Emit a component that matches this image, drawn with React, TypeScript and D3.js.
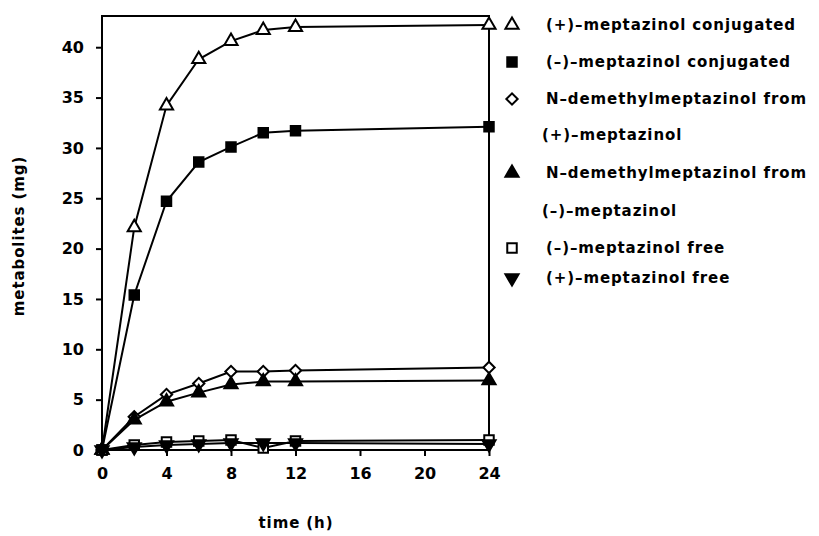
import React, { useEffect, useRef } from "react";
import * as d3 from "d3";

// time points (h)
const hours = [0, 2, 4, 6, 8, 10, 12, 24];

const plusConjugated = [0, 22.1, 34.2, 38.8, 40.6, 41.7, 42.0, 42.2];
const minusConjugated = [0, 15.4, 24.7, 28.6, 30.1, 31.5, 31.7, 32.1];
const demethylFromPlus = [0, 3.3, 5.5, 6.6, 7.8, 7.8, 7.9, 8.2];
const demethylFromMinus = [0, 3.0, 4.8, 5.7, 6.5, 6.8, 6.8, 6.9];
const minusFree = [0, 0.5, 0.8, 0.9, 1.0, 0.2, 0.9, 1.0];
const plusFree = [0, 0.3, 0.5, 0.6, 0.7, 0.7, 0.7, 0.6];

const xTicks = [0, 4, 8, 12, 16, 20, 24];
const yTicks = [0, 5, 10, 15, 20, 25, 30, 35, 40];

const legendLines = [
  { text: "(+)\u2013meptazinol conjugated", marker: "triUp", filled: false },
  { text: "(\u2013)\u2013meptazinol conjugated", marker: "square", filled: true },
  { text: "N\u2013demethylmeptazinol from", marker: "diamond", filled: false },
  { text: "(+)\u2013meptazinol", marker: null, filled: false },
  { text: "N\u2013demethylmeptazinol from", marker: "triUp", filled: true },
  { text: "(\u2013)\u2013meptazinol", marker: null, filled: false },
  { text: "(\u2013)\u2013meptazinol free", marker: "square", filled: false },
  { text: "(+)\u2013meptazinol free", marker: "triDown", filled: true },
];

const series = [
  { values: plusConjugated, marker: "triUp", filled: false },
  { values: minusConjugated, marker: "square", filled: true },
  { values: demethylFromPlus, marker: "diamond", filled: false },
  { values: demethylFromMinus, marker: "triUp", filled: true },
  { values: minusFree, marker: "square", filled: false },
  { values: plusFree, marker: "triDown", filled: true },
];

const FONT = "'DejaVu Sans', sans-serif";
const SPACING = "0.9px";

function symbolPath(marker: string) {
  if (marker === "square") return d3.symbol(d3.symbolSquare, 90)();
  if (marker === "diamond") return d3.symbol(d3.symbolSquare, 64)();
  return d3.symbol(d3.symbolTriangle, 75)();
}

function drawMarker(g: any, marker: string, filled: boolean, cx: number, cy: number) {
  const rot = marker === "triDown" ? " rotate(180)" : marker === "diamond" ? " rotate(45)" : "";
  g.append("path")
    .attr("d", symbolPath(marker))
    .attr("transform", `translate(${cx},${cy})${rot}`)
    .attr("fill", filled ? "#000" : "#fff")
    .attr("stroke", "#000")
    .attr("stroke-width", 2);
}

export default function App() {
  const svgRef = useRef<SVGSVGElement>(null);

  useEffect(() => {
    const svg = d3.select(svgRef.current);
    svg.selectAll("*").remove();

    const xScale = d3.scaleLinear().domain([0, 24]).range([102, 489]);
    const yScale = d3.scaleLinear().domain([0, 43.1]).range([450, 16]);

    // frame
    svg.append("rect")
      .attr("x", 102).attr("y", 16)
      .attr("width", 387).attr("height", 434)
      .attr("fill", "none").attr("stroke", "#000").attr("stroke-width", 2);

    const yAxis = svg.append("g")
      .attr("transform", "translate(102,0)")
      .call(d3.axisLeft(yScale).tickValues(yTicks).tickSize(6).tickSizeOuter(0).tickPadding(12));
    yAxis.select(".domain").remove();
    yAxis.selectAll("line").attr("stroke-width", 2);
    yAxis.selectAll("text")
      .attr("font-family", FONT).attr("font-size", 16).attr("font-weight", "bold");

    const xAxis = svg.append("g")
      .attr("transform", "translate(0,450)")
      .call(d3.axisBottom(xScale).tickValues(xTicks).tickSize(6).tickSizeOuter(0).tickPadding(12));
    xAxis.select(".domain").remove();
    xAxis.selectAll("line").attr("stroke-width", 2);
    xAxis.selectAll("text")
      .attr("font-family", FONT).attr("font-size", 16).attr("font-weight", "bold");

    // axis titles
    svg.append("text")
      .attr("x", 296).attr("y", 528)
      .attr("text-anchor", "middle")
      .attr("font-family", FONT).attr("font-size", 15).attr("font-weight", "bold")
      .attr("letter-spacing", SPACING)
      .text("time (h)");
    svg.append("text")
      .attr("transform", "translate(24,236) rotate(-90)")
      .attr("text-anchor", "middle")
      .attr("font-family", FONT).attr("font-size", 15).attr("font-weight", "bold")
      .attr("letter-spacing", SPACING)
      .text("metabolites (mg)");

    const line = d3.line<number>()
      .x((d, i) => xScale(hours[i]))
      .y(d => yScale(d));

    const g = svg.append("g");
    series.forEach(s => {
      g.append("path")
        .datum(s.values)
        .attr("d", line)
        .attr("fill", "none")
        .attr("stroke", "#000")
        .attr("stroke-width", 2);
    });
    series.forEach(s => {
      s.values.forEach((v, i) => drawMarker(g, s.marker, s.filled, xScale(hours[i]), yScale(v)));
    });

    // legend
    const rowY = [25, 62, 99, 135, 173, 211, 248, 278];
    const lg = svg.append("g");
    legendLines.forEach((item, i) => {
      const ly = rowY[i];
      if (item.marker) drawMarker(lg, item.marker, item.filled, 512, ly);
      lg.append("text")
        .attr("x", item.marker ? 546 : 542).attr("y", ly)
        .attr("dy", "0.35em")
        .attr("font-family", FONT).attr("font-size", 15).attr("font-weight", "bold")
        .attr("letter-spacing", SPACING)
        .text(item.text);
    });
  }, []);

  return (
    <svg
      ref={svgRef}
      width={819}
      height={536}
      style={{ position: "absolute", left: 0, top: 0, background: "#fff" }}
    />
  );
}
